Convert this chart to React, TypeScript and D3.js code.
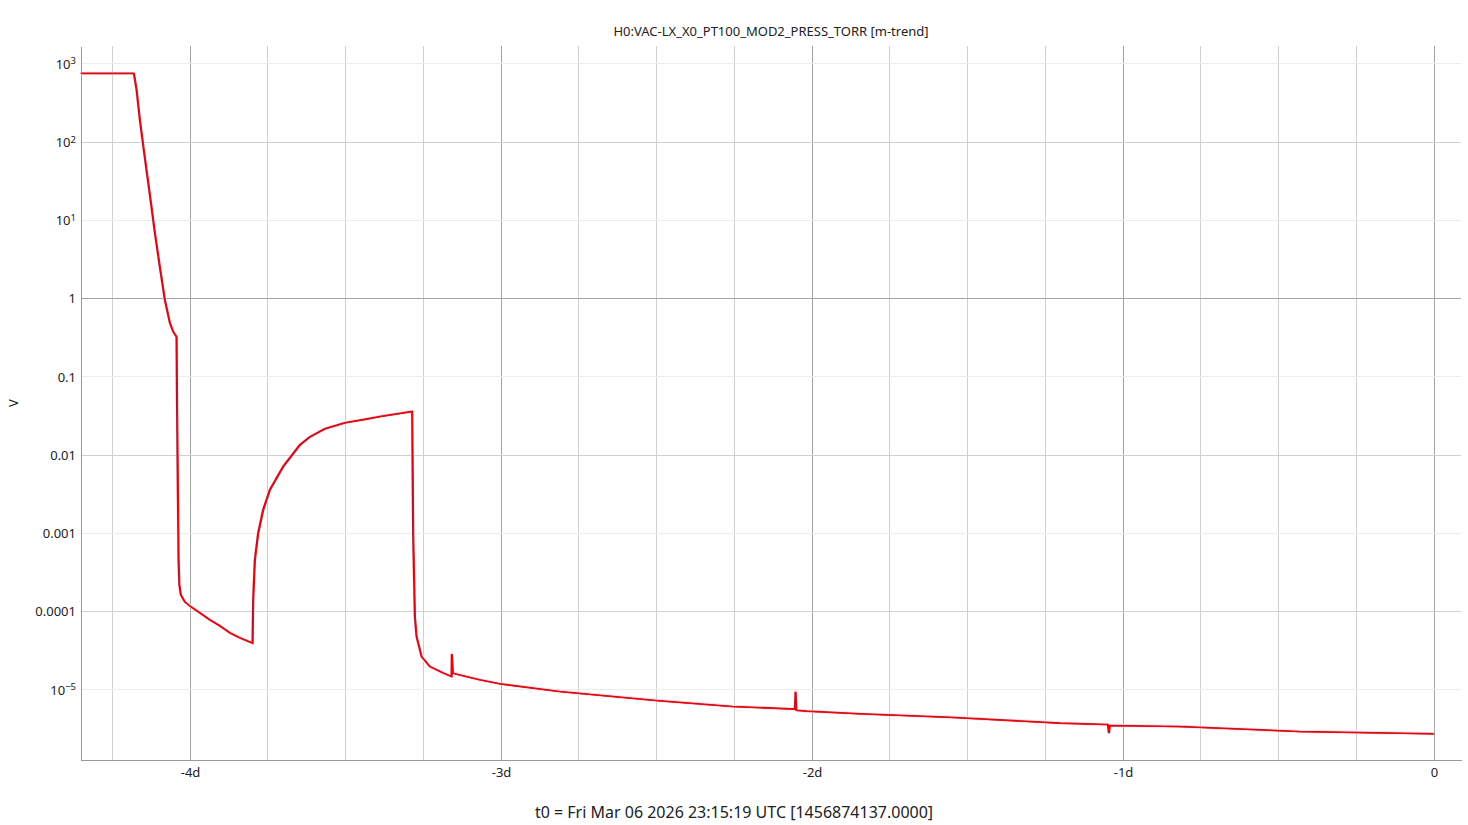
import { useEffect, useRef } from 'react';
import * as d3 from 'd3';

// time relative to t0, in days
const days = [
  -4.3505, -4.180, -4.1714, -4.1608, -4.1469, -4.1264, -4.1125, -4.0965, -4.0804, -4.0643,
  -4.0537, -4.0428, -4.0412, -4.0364, -4.0338, -4.029, -4.0161, -4.0, -3.9678, -3.9357,
  -3.9035, -3.8714, -3.8392, -3.7984, -3.7965, -3.7910, -3.7804, -3.7643, -3.7428, -3.6999,
  -3.6463, -3.6141, -3.5659, -3.5016, -3.4373, -3.3891, -3.2852, -3.2820, -3.2765, -3.2711,
  -3.2550, -3.2283, -3.1865, -3.1585, -3.1576, -3.1543, -3.0675, -3.0032, -2.8103, -2.4994,
  -2.2540, -2.0547, -2.0524, -2.0498, -2.0170, -1.8457, -1.5563, -1.2026, -1.0482, -1.0450,
  -1.0418, -0.8167, -0.4309, 0
];

// mean pressure, torr
const pressure = [
  760, 760, 469, 194, 73.4, 18.4, 6.97, 2.56, 0.971, 0.494,
  0.382, 0.327, 0.0405, 4.62e-4, 2.21e-4, 1.65e-4, 1.34e-4, 1.19e-4, 9.7e-5, 7.9e-5,
  6.62e-5, 5.39e-5, 4.65e-5, 3.98e-5, 1.42e-4, 4.62e-4, 1.01e-3, 2.01e-3, 3.62e-3, 7.19e-3,
  0.0136, 0.0172, 0.0218, 0.0260, 0.0288, 0.0313, 0.0363, 9.64e-4, 8.63e-5, 4.83e-5,
  2.68e-5, 2.0e-5, 1.66e-5, 1.49e-5, 2.88e-5, 1.64e-5, 1.35e-5, 1.20e-5, 9.58e-6, 7.35e-6,
  6.16e-6, 5.71e-6, 9.5e-6, 5.51e-6, 5.38e-6, 4.97e-6, 4.49e-6, 3.78e-6, 3.62e-6, 2.82e-6,
  3.52e-6, 3.42e-6, 2.95e-6, 2.76e-6
];

const dayTicks = [-4, -3, -2, -1, 0];
const dayTickLabels = ['-4d', '-3d', '-2d', '-1d', '0'];
const decadeTicks = [3, 2, 1, 0, -1, -2, -3, -4, -5];
const decadeLabels = ['10^3', '10^2', '10^1', '1', '0.1', '0.01', '0.001', '0.0001', '10^\u22125'];

const title = 'H0:VAC-LX_X0_PT100_MOD2_PRESS_TORR [m-trend]';
const t0Label = 't0 = Fri Mar 06 2026 23:15:19 UTC [1456874137.0000]';

export default function App() {
  const svgRef = useRef<SVGSVGElement>(null);

  useEffect(() => {
    const svg = d3.select(svgRef.current);
    svg.selectAll('*').remove();

    const width = 1468;
    const height = 825;
    const margin = { top: 46, right: 7, bottom: 65, left: 81 };
    const font = '"Noto Sans", "DejaVu Sans", sans-serif';

    const x = d3.scaleLinear()
      .domain([-4.3505, 0.0868])
      .range([margin.left, width - margin.right]);

    const y = d3.scaleLog()
      .domain([Math.pow(10, -5.895), Math.pow(10, 3.23)])
      .range([height - margin.bottom, margin.top]);

    svg.attr('width', width).attr('height', height).style('font-family', font);

    // vertical grid: quarter days light, whole days darker
    const quarters = d3.range(-17, 1).map(d => d / 4);
    svg.append('g')
      .selectAll('line')
      .data(quarters)
      .join('line')
      .attr('x1', d => x(d))
      .attr('x2', d => x(d))
      .attr('y1', margin.top)
      .attr('y2', height - margin.bottom)
      .attr('stroke', d => (Number.isInteger(d) ? '#a3a3a3' : '#cfcfcf'))
      .attr('stroke-width', 1)
      .attr('shape-rendering', 'crispEdges');

    // horizontal grid per decade
    svg.append('g')
      .selectAll('line')
      .data(decadeTicks)
      .join('line')
      .attr('x1', margin.left)
      .attr('x2', width - margin.right)
      .attr('y1', d => y(Math.pow(10, d)))
      .attr('y2', d => y(Math.pow(10, d)))
      .attr('stroke', d => (d === 0 ? '#a3a3a3' : Math.abs(d) % 2 === 0 ? '#cfcfcf' : '#ececec'))
      .attr('stroke-width', 1)
      .attr('shape-rendering', 'crispEdges');

    // axes
    const xAxis = d3.axisBottom(x)
      .tickValues(dayTicks)
      .tickSize(0)
      .tickPadding(8)
      .tickFormat((d, i) => dayTickLabels[i]);
    const gx = svg.append('g')
      .attr('transform', `translate(0, ${height - margin.bottom})`)
      .call(xAxis);
    gx.select('.domain').attr('stroke', '#999').attr('shape-rendering', 'crispEdges');
    gx.selectAll('text').attr('fill', '#222').style('font-size', '13px').style('font-family', font);

    const gy = svg.append('g')
      .attr('transform', `translate(${margin.left}, 0)`)
      .call(d3.axisLeft(y).tickValues([]).tickSize(0));
    gy.select('.domain').attr('stroke', '#999').attr('shape-rendering', 'crispEdges');

    const yLabels = svg.append('g')
      .selectAll('text')
      .data(decadeTicks)
      .join('text')
      .attr('x', margin.left - 5)
      .attr('y', d => y(Math.pow(10, d)))
      .attr('dy', '0.35em')
      .attr('text-anchor', 'end')
      .attr('fill', '#222')
      .style('font-size', '13px');

    yLabels.each(function (d, i) {
      const label = decadeLabels[i];
      const t = d3.select(this);
      if (label.includes('^')) {
        const [base, exp] = label.split('^');
        t.append('tspan').text(base);
        t.append('tspan')
          .text(exp)
          .attr('dy', '-0.45em')
          .style('font-size', '9.5px');
      } else {
        t.text(label);
      }
    });

    // trace
    const points = days.map((d, i) => [d, pressure[i]] as [number, number]);
    const line = d3.line<[number, number]>()
      .x(d => x(d[0]))
      .y(d => y(d[1]));

    svg.append('path')
      .datum(points)
      .attr('d', line)
      .attr('fill', 'none')
      .attr('stroke', '#ffd6e2')
      .attr('stroke-width', 3.2)
      .attr('stroke-linejoin', 'round');

    svg.append('path')
      .datum(points)
      .attr('d', line)
      .attr('fill', 'none')
      .attr('stroke', '#9e1a2c')
      .attr('stroke-width', 1.6)
      .attr('transform', 'translate(-0.4, 0)');

    svg.append('path')
      .datum(points)
      .attr('d', line)
      .attr('fill', 'none')
      .attr('stroke', '#ff0000')
      .attr('stroke-width', 1.1)
      .attr('transform', 'translate(0.4, 0.3)');

    // texts
    svg.append('text')
      .attr('x', (margin.left + width - margin.right) / 2)
      .attr('y', 36)
      .attr('text-anchor', 'middle')
      .attr('fill', '#222')
      .style('font-size', '13px')
      .text(title);

    svg.append('text')
      .attr('transform', `translate(18, ${(margin.top + height - margin.bottom) / 2}) rotate(-90)`)
      .attr('text-anchor', 'middle')
      .attr('fill', '#222')
      .style('font-size', '13px')
      .text('V');

    svg.append('text')
      .attr('x', width / 2)
      .attr('y', 818)
      .attr('text-anchor', 'middle')
      .attr('fill', '#222')
      .style('font-size', '16px')
      .text(t0Label);
  }, []);

  return (
    <svg
      ref={svgRef}
      style={{ position: 'absolute', left: 0, top: 0, display: 'block', background: '#fff' }}
    ></svg>
  );
}
